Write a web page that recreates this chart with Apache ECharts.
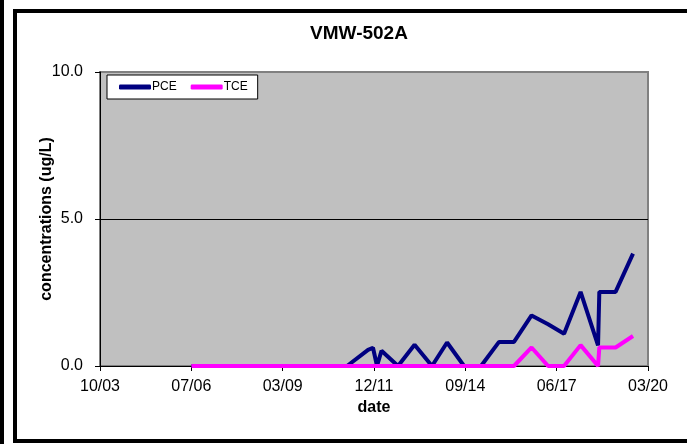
<!DOCTYPE html>
<html>
<head>
<meta charset="utf-8">
<script src="https://cdn.jsdelivr.net/npm/echarts@6/dist/echarts.min.js"></script>
<style>
  html, body { margin: 0; padding: 0; background: #fff; }
  #chart { width: 687px; height: 444px; }
</style>
</head>
<body>
<div id="chart"></div>
<script>
// sampling dates
var sampleDates = ['2006-07-04', '2011-03-03', '2011-10-19', '2011-12-12', '2012-01-25', '2012-03-14',
  '2012-09-11', '2013-03-11', '2013-09-18', '2014-03-02', '2014-09-04', '2015-03-09', '2015-09-22',
  '2016-03-04', '2016-09-12', '2017-03-12', '2017-09-03', '2018-03-03', '2018-09-10', '2018-09-24',
  '2019-03-21', '2019-09-28'];
var pce = [0, 0, 0.55, 0.62, 0, 0.52, 0, 0.72, 0, 0.8, 0, 0, 0.82, 0.82, 1.72, 1.42, 1.1, 2.52, 0.7, 2.52, 2.52, 3.82];
var tce = [0, 0, 0, 0, 0, 0, 0, 0, 0, 0, 0, 0, 0, 0, 0.63, 0, 0, 0.71, 0, 0.63, 0.63, 1.02];
var yTicks = [0, 5, 10];

// date axis runs in days from its start, ticks every 1000 days
var axisStart = Date.UTC(2003, 9, 6);
var DAY = 86400000;

function toDay(s) {
  return (Date.parse(s) - axisStart) / DAY;
}
function dayLabel(v) {
  var d = new Date(axisStart + v * DAY);
  var m = d.getUTCMonth() + 1;
  var y = d.getUTCFullYear() % 100;
  return (m < 10 ? '0' : '') + m + '/' + (y < 10 ? '0' : '') + y;
}
function pairs(vals) {
  return sampleDates.map(function (d, i) { return [toDay(d), vals[i]]; });
}

var chart = echarts.init(document.getElementById('chart'));

var option = {
  animation: false,
  textStyle: { fontFamily: 'Liberation Sans, Arial, sans-serif' },
  title: {
    text: 'VMW-502A',
    left: 354,
    textAlign: 'center',
    top: 19,
    textStyle: { fontSize: 19, fontWeight: 'bold', color: '#000' }
  },
  graphic: [
    { type: 'rect', shape: { x: 0, y: 0, width: 4, height: 444 }, style: { fill: '#000' } },
    { type: 'rect', shape: { x: 15, y: 11, width: 700, height: 430 }, style: { fill: 'none', stroke: '#000', lineWidth: 4 } }
  ],
  legend: {
    left: 107,
    top: 75,
    padding: [6, 10, 6, 12],
    itemGap: 14,
    itemWidth: 32,
    itemHeight: 5,
    icon: 'roundRect',
    backgroundColor: '#fff',
    borderColor: '#000',
    borderWidth: 1,
    borderRadius: 0,
    textStyle: { fontSize: 12, color: '#000', padding: [0, 0, 0, -4] },
    data: ['PCE', 'TCE']
  },
  grid: {
    left: 100,
    right: 39,
    top: 72,
    bottom: 78,
    show: true,
    backgroundColor: '#c0c0c0',
    borderColor: '#808080',
    borderWidth: 2
  },
  xAxis: {
    type: 'value',
    min: 0,
    max: 6000,
    interval: 1000,
    name: 'date',
    nameLocation: 'middle',
    nameGap: 34,
    nameMoveOverlap: false,
    nameTextStyle: { fontSize: 16, fontWeight: 'bold', color: '#000' },
    axisLine: { lineStyle: { color: '#000', width: 1 } },
    axisTick: { length: 5, lineStyle: { color: '#000' } },
    axisLabel: { fontSize: 16, color: '#000', margin: 13, formatter: dayLabel },
    splitLine: { show: false }
  },
  yAxis: {
    type: 'value',
    min: yTicks[0],
    max: yTicks[yTicks.length - 1],
    interval: 5,
    name: 'concentrations (ug/L)',
    nameLocation: 'middle',
    nameGap: 45,
    nameMoveOverlap: false,
    nameTextStyle: { fontSize: 16, fontWeight: 'bold', color: '#000' },
    axisLine: { show: true, lineStyle: { color: '#000', width: 1 } },
    axisTick: { show: true, length: 5, lineStyle: { color: '#000' } },
    axisLabel: { fontSize: 16, color: '#000', margin: 17, formatter: function (v) { return v.toFixed(1); } },
    splitLine: { show: true, lineStyle: { color: ['#000', '#000', '#808080'], width: 1 } }
  },
  series: [{
    name: 'PCE',
    type: 'line',
    symbol: 'none',
    color: '#000080',
    lineStyle: { width: 4, color: '#000080' },
    data: pairs(pce)
  }, {
    name: 'TCE',
    type: 'line',
    symbol: 'none',
    color: '#ff00ff',
    lineStyle: { width: 4, color: '#ff00ff' },
    data: pairs(tce)
  }]
};

chart.setOption(option);
</script>
</body>
</html>
